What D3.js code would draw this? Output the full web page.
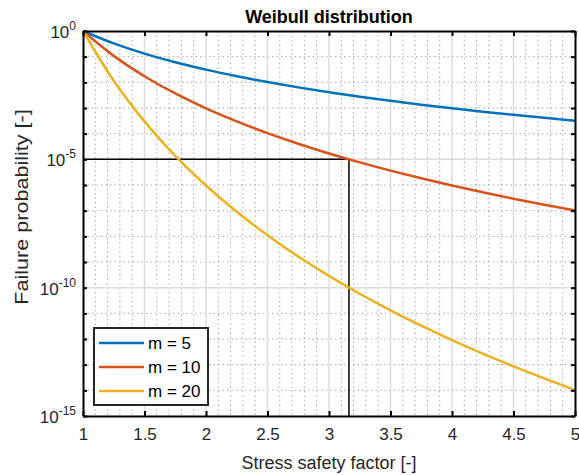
<!DOCTYPE html>
<html>
<head>
<meta charset="utf-8">
<script src="https://cdn.jsdelivr.net/npm/d3@7"></script>
<style>
  body { margin: 0; background: #fff; }
  text { font-family: "Liberation Sans", Arial, sans-serif; }
</style>
</head>
<body>
<div id="chart"></div>
<script>
// values
const safetyFactor = [1, 1.25, 1.5, 1.75, 2, 2.25, 2.5, 2.75, 3, 3.25, 3.5, 3.75, 4, 4.25, 4.5, 4.75, 5];
const probM5 = [1, 0.32768, 0.131687, 0.060927, 0.03125, 0.017342, 0.01024, 0.0063582, 0.0041152, 0.0027579,
  0.001904, 0.0013485, 0.00097656, 0.0007212, 0.00054192, 0.00041355, 0.00032];
const probM10 = [1, 0.107374, 0.0173415, 0.0037121, 0.00097656, 0.00030075, 0.000104858, 4.0427e-5, 1.6935e-5, 7.606e-6,
  3.6251e-6, 1.8185e-6, 9.5367e-7, 5.2013e-7, 2.9368e-7, 1.7102e-7, 1.024e-7];
const probM20 = [1, 0.011529, 3.0073e-4, 1.378e-5, 9.5367e-7, 9.0451e-8, 1.0995e-8, 1.6344e-9, 2.868e-10, 5.7851e-11,
  1.3141e-11, 3.3069e-12, 9.0949e-13, 2.7054e-13, 8.6248e-14, 2.9249e-14, 1.0486e-14];
const seriesNames = ["m = 5", "m = 10", "m = 20"];
const xTicks = [1, 1.5, 2, 2.5, 3, 3.5, 4, 4.5, 5];
const yTickExp = [0, -5, -10, -15];
const refPoint = { x: 3.1623, y: 1e-5 };

const width = 579, height = 475;
const margin = { top: 31, right: 4, bottom: 59, left: 83 };
const colors = ["#0072BD", "#D95319", "#EDB120"];

const svg = d3.select('#chart').append('svg')
  .attr('width', width)
  .attr('height', height);

const x = d3.scaleLinear().domain([1, 5]).range([margin.left, width - margin.right]);
const y = d3.scaleLog().domain([1e-15, 1]).range([height - margin.bottom, margin.top]);

// minor grid (dotted)
const minorX = d3.range(10, 51).map(d => d / 10).filter(v => Math.round(v * 10) % 5 !== 0);
const decades = d3.range(-14, 0).filter(e => e % 5 !== 0).map(e => Math.pow(10, e));
svg.append('g').selectAll('line').data(minorX).enter().append('line')
  .attr('x1', d => x(d)).attr('x2', d => x(d))
  .attr('y1', y(1)).attr('y2', y(1e-15))
  .attr('stroke', '#a8a8a8').attr('stroke-width', 1).attr('stroke-dasharray', '1.5,3');
svg.append('g').selectAll('line').data(decades).enter().append('line')
  .attr('x1', x(1)).attr('x2', x(5))
  .attr('y1', d => y(d)).attr('y2', d => y(d))
  .attr('stroke', '#a8a8a8').attr('stroke-width', 1).attr('stroke-dasharray', '1.5,3');

// major grid
svg.append('g').selectAll('line').data(xTicks.slice(1, -1)).enter().append('line')
  .attr('x1', d => x(d)).attr('x2', d => x(d))
  .attr('y1', y(1)).attr('y2', y(1e-15))
  .attr('stroke', '#dcdcdc').attr('stroke-width', 1.5);
svg.append('g').selectAll('line').data([-5, -10]).enter().append('line')
  .attr('x1', x(1)).attr('x2', x(5))
  .attr('y1', d => y(Math.pow(10, d))).attr('y2', d => y(Math.pow(10, d)))
  .attr('stroke', '#dcdcdc').attr('stroke-width', 1.5);

// reference lines
svg.append('path')
  .attr('d', `M${x(1)},${y(refPoint.y)}H${x(refPoint.x)}V${y(1e-15)}`)
  .attr('fill', 'none').attr('stroke', '#000').attr('stroke-width', 1.5);

// curves
const line = d3.line()
  .x(d => x(d[0]))
  .y(d => y(d[1]))
  .curve(d3.curveCatmullRom);
[probM5, probM10, probM20].forEach((vals, i) => {
  svg.append('path')
    .datum(safetyFactor.map((s, j) => [s, vals[j]]))
    .attr('d', line)
    .attr('fill', 'none')
    .attr('stroke', colors[i])
    .attr('stroke-width', 2.5);
});

// axes (ticks inward, box on)
const allDecades = d3.range(-15, 1).map(e => Math.pow(10, e));
svg.append('g')
  .attr('transform', `translate(0,${y(1e-15)})`)
  .call(d3.axisBottom(x).tickValues(xTicks).tickSizeInner(-5).tickSizeOuter(0).tickPadding(12).tickFormat(d3.format('')))
  .call(g => g.select('.domain').attr('stroke-width', 2))
  .call(g => g.selectAll('.tick line').attr('stroke-width', 2))
  .call(g => g.selectAll('.tick text').style('font-size', '17px').attr('fill', '#262626'));
svg.append('g')
  .attr('transform', `translate(0,${y(1)})`)
  .call(d3.axisTop(x).tickValues(xTicks).tickSizeInner(-5).tickSizeOuter(0).tickFormat(''))
  .call(g => g.select('.domain').attr('stroke-width', 2))
  .call(g => g.selectAll('.tick line').attr('stroke-width', 2));
svg.append('g')
  .attr('transform', `translate(${x(1)},0)`)
  .call(d3.axisLeft(y).tickValues(allDecades).tickSizeInner(-4).tickSizeOuter(0).tickFormat(''))
  .call(g => g.select('.domain').attr('stroke-width', 2))
  .call(g => g.selectAll('.tick line').attr('stroke-width', 2));
svg.append('g')
  .attr('transform', `translate(${x(5)},0)`)
  .call(d3.axisRight(y).tickValues(allDecades).tickSizeInner(-4).tickSizeOuter(0).tickFormat(''))
  .call(g => g.select('.domain').attr('stroke-width', 2))
  .call(g => g.selectAll('.tick line').attr('stroke-width', 2));

// y tick labels 10^k
yTickExp.forEach(e => {
  const t = svg.append('text')
    .attr('x', x(1) - 7)
    .attr('y', y(Math.pow(10, e)) + 7)
    .attr('text-anchor', 'end')
    .attr('fill', '#262626')
    .style('font-size', '17px');
  t.append('tspan').text('10');
  t.append('tspan').attr('dy', -8).style('font-size', '12px').text(String(e));
});

// title and axis labels
svg.append('text')
  .attr('x', (x(1) + x(5)) / 2).attr('y', 23)
  .attr('text-anchor', 'middle')
  .style('font-size', '18px').style('font-weight', 'bold')
  .text('Weibull distribution');
svg.append('text')
  .attr('x', (x(1) + x(5)) / 2).attr('y', 469)
  .attr('text-anchor', 'middle')
  .attr('fill', '#262626')
  .style('font-size', '18px')
  .text('Stress safety factor [-]');
svg.append('text')
  .attr('transform', `translate(28,207) scale(1,1.2) rotate(-90)`)
  .attr('text-anchor', 'middle')
  .attr('fill', '#262626')
  .style('font-size', '18px')
  .text('Failure probability [-]');

// legend
const legend = svg.append('g').attr('transform', 'translate(94,328)');
legend.append('rect')
  .attr('width', 114).attr('height', 77)
  .attr('fill', '#fff').attr('stroke', '#262626').attr('stroke-width', 2);
seriesNames.forEach((name, i) => {
  const row = legend.append('g').attr('transform', `translate(0,${15 + i * 24})`);
  row.append('line')
    .attr('x1', 5).attr('x2', 50)
    .attr('stroke', colors[i]).attr('stroke-width', 2.5);
  row.append('text')
    .attr('x', 54).attr('y', 6)
    .style('font-size', '17px')
    .text(name);
});
</script>
</body>
</html>
